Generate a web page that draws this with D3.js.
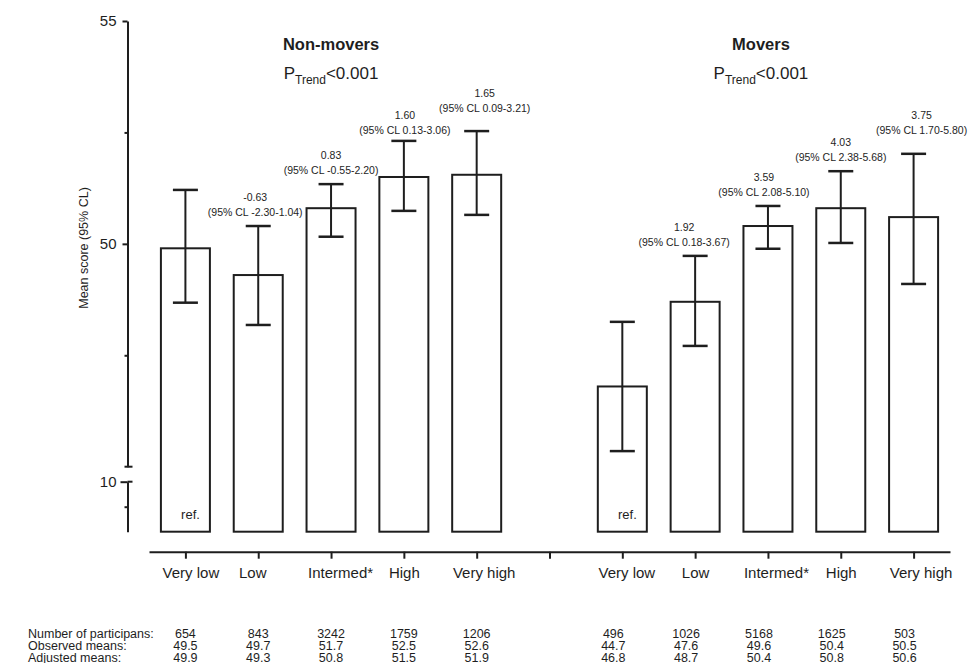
<!DOCTYPE html>
<html>
<head>
<meta charset="utf-8">
<script src="https://cdn.jsdelivr.net/npm/d3@7"></script>
<style>
  body { margin: 0; background: #fff; }
  svg { display: block; font-family: Arial, "Liberation Sans", sans-serif; }
</style>
</head>
<body>
<div id="chart"></div>
<script>
// Categories and groups
const categories = ['Very low', 'Low', 'Intermed*', 'High', 'Very high'];
const groups = ['Non-movers', 'Movers'];

// Bar heights (mean score) and 95% CL
const nonMoverMean = [49.9, 49.3, 50.8, 51.5, 51.55];
const nonMoverLow = [48.68, 48.18, 50.16, 50.74, 50.65];
const nonMoverHigh = [51.21, 50.40, 51.34, 52.31, 52.53];
const moverMean = [46.8, 48.7, 50.4, 50.8, 50.6];
const moverLow = [45.35, 47.71, 49.89, 50.02, 49.10];
const moverHigh = [48.25, 49.73, 50.85, 51.63, 52.02];

// Differences against the reference category
const nonMoverDiff = [null, '-0.63', '0.83', '1.60', '1.65'];
const nonMoverDiffCL = [null, '-2.30-1.04', '-0.55-2.20', '0.13-3.06', '0.09-3.21'];
const moverDiff = [null, '1.92', '3.59', '4.03', '3.75'];
const moverDiffCL = [null, '0.18-3.67', '2.08-5.10', '2.38-5.68', '1.70-5.80'];

// Table under the chart
const rowLabels = ['Number of participans:', 'Observed means:', 'Adjusted means:'];
const nonMoverN = ['654', '843', '3242', '1759', '1206'];
const moverN = ['496', '1026', '5168', '1625', '503'];
const nonMoverObserved = ['49.5', '49.7', '51.7', '52.5', '52.6'];
const moverObserved = ['44.7', '47.6', '49.6', '50.4', '50.5'];
const nonMoverAdjusted = ['49.9', '49.3', '50.8', '51.5', '51.9'];
const moverAdjusted = ['46.8', '48.7', '50.4', '50.8', '50.6'];

const yTicksUpper = [50, 55];
const yTicksLower = [10];

const width = 968, height = 663;
const ink = '#1e1e1e';

const svg = d3.select('#chart').append('svg')
    .attr('width', width)
    .attr('height', height);

svg.append('rect').attr('width', width).attr('height', height).attr('fill', '#fff');

// x: 5 + gap + 5 slots
const x = d3.scalePoint()
    .domain(d3.range(11))
    .range([149, 950])
    .padding(0.5);

// broken y axis: upper part 45-55, lower part 9-10
const yUp = d3.scaleLinear().domain([45, 55]).range([466.7, 21]);
const yLo = d3.scaleLinear().domain([9, 10]).range([531.7, 481.7]);
const axisX = 127.5;

// y axis, upper segment
const gUp = svg.append('g').attr('transform', `translate(${axisX},0)`)
    .call(d3.axisLeft(yUp).tickValues(yTicksUpper).tickSize(5).tickSizeOuter(0).tickPadding(6)
        .tickFormat(d3.format('d')));
gUp.append('g')
    .call(d3.axisLeft(yUp).tickValues([47.5, 52.5]).tickSize(3).tickSizeOuter(0).tickFormat(''))
    .select('.domain').remove();

// y axis, lower segment
const gLo = svg.append('g').attr('transform', `translate(${axisX},0)`)
    .call(d3.axisLeft(yLo).tickValues(yTicksLower).tickSize(7).tickSizeOuter(0).tickPadding(4)
        .tickFormat(d3.format('d')));
gLo.append('g')
    .call(d3.axisLeft(yLo).tickValues([9.5]).tickSize(3).tickSizeOuter(0).tickFormat(''))
    .select('.domain').remove();

// break caps
svg.append('line').attr('x1', axisX - 3).attr('x2', axisX + 5)
    .attr('y1', yUp(45)).attr('y2', yUp(45));
svg.append('line').attr('x1', axisX).attr('x2', axisX + 5)
    .attr('y1', yLo(10)).attr('y2', yLo(10));

svg.selectAll('.domain, .tick line, line').attr('stroke', ink).attr('stroke-width', 2);
svg.selectAll('g').attr('font-family', null).attr('font-size', null);
svg.selectAll('.tick text').attr('font-size', 15).attr('fill', ink);

// y label
svg.append('text')
    .attr('transform', 'translate(88,248) rotate(-90)')
    .attr('text-anchor', 'middle')
    .attr('font-size', 12.5)
    .attr('fill', ink)
    .text('Mean score (95% CL)');

// x axis
const labelNudge = [5, -6, 9, 0, 7, 0, 4, 0, 8, 0, 7];
const gx = svg.append('g').attr('transform', 'translate(0,551.7)')
    .call(d3.axisBottom(x).tickSize(7).tickSizeOuter(0).tickPadding(9)
        .tickFormat(i => i < 5 ? categories[i] : i > 5 ? categories[i - 6] : ''))
    .attr('font-family', null).attr('font-size', null);
gx.select('.domain').attr('stroke', ink).attr('stroke-width', 2);
gx.selectAll('.tick line').attr('stroke', ink).attr('stroke-width', 2);
gx.selectAll('.tick text')
    .attr('font-size', 15).attr('fill', ink)
    .attr('dx', i => labelNudge[i]);

// bars and error bars
const barW = 49, capW = 25;
const series = [
    { offset: 0, mean: nonMoverMean, lo: nonMoverLow, hi: nonMoverHigh, diff: nonMoverDiff, cl: nonMoverDiffCL },
    { offset: 6, mean: moverMean, lo: moverLow, hi: moverHigh, diff: moverDiff, cl: moverDiffCL }
];
const noteShift = [[0, 0], [-3, 0], [0, 0], [1, 3], [8, -9], [0, 0], [-11, 0], [-4, 0], [0, 0], [8, -10]];

series.forEach((s, si) => {
    const rows = s.mean.map((m, i) => ({
        cx: x(i + s.offset), mean: m, lo: s.lo[i], hi: s.hi[i],
        diff: s.diff[i], cl: s.cl[i], k: si * 5 + i
    }));
    const g = svg.append('g');

    g.selectAll('rect').data(rows).enter().append('rect')
        .attr('x', d => d.cx - barW / 2)
        .attr('y', d => yUp(d.mean))
        .attr('width', barW)
        .attr('height', d => yLo(9) - yUp(d.mean))
        .attr('fill', '#fff')
        .attr('stroke', ink)
        .attr('stroke-width', 2);

    g.selectAll('line.err').data(rows).enter().append('line').attr('class', 'err')
        .attr('x1', d => d.cx).attr('x2', d => d.cx)
        .attr('y1', d => yUp(d.hi)).attr('y2', d => yUp(d.lo))
        .attr('stroke', ink).attr('stroke-width', 2);

    ['hi', 'lo'].forEach(key => {
        g.selectAll('line.cap-' + key).data(rows).enter().append('line').attr('class', 'cap-' + key)
            .attr('x1', d => d.cx - capW / 2).attr('x2', d => d.cx + capW / 2)
            .attr('y1', d => yUp(d[key])).attr('y2', d => yUp(d[key]))
            .attr('stroke', ink).attr('stroke-width', 2.5);
    });

    // "ref." inside the reference bar
    g.append('text')
        .attr('x', rows[0].cx + barW / 2 - 10)
        .attr('y', 518.5)
        .attr('text-anchor', 'end')
        .attr('font-size', 13)
        .attr('fill', ink)
        .text('ref.');

    // difference labels above error bars
    const notes = g.selectAll('g.note').data(rows.filter(d => d.diff)).enter().append('g')
        .attr('class', 'note')
        .attr('transform', d => {
            const sh = noteShift[d.k];
            return `translate(${d.cx + sh[0]},${yUp(d.hi) - 10 + sh[1]})`;
        })
        .attr('text-anchor', 'middle')
        .attr('font-size', 10.5)
        .attr('fill', ink);
    notes.append('text').attr('y', -15).text(d => d.diff);
    notes.append('text').attr('y', 0).text(d => `(95% CL ${d.cl})`);
});

// group titles
const titleX = [x(2), x(8) - 7];
groups.forEach((name, gi) => {
    svg.append('text')
        .attr('x', titleX[gi]).attr('y', 49.5)
        .attr('text-anchor', 'middle')
        .attr('font-size', 16.5).attr('font-weight', 'bold')
        .attr('fill', ink)
        .text(name);
    const p = svg.append('text')
        .attr('x', titleX[gi]).attr('y', 78.5)
        .attr('text-anchor', 'middle')
        .attr('font-size', 17)
        .attr('fill', ink);
    p.append('tspan').text('P');
    p.append('tspan').attr('font-size', 12).attr('dy', 5).text('Trend');
    p.append('tspan').attr('dy', -5).text('<0.001');
});

// table
const tableRows = [
    [nonMoverN, moverN],
    [nonMoverObserved, moverObserved],
    [nonMoverAdjusted, moverAdjusted]
];
const rowY = [637.5, 649.5, 661.5];
const colShift = [0, -9];
tableRows.forEach((r, ri) => {
    svg.append('text')
        .attr('x', 28).attr('y', rowY[ri])
        .attr('font-size', 12.5).attr('fill', ink)
        .text(rowLabels[ri]);
    r.forEach((vals, gi) => {
        svg.append('g').selectAll('text').data(vals).enter().append('text')
            .attr('x', (d, i) => x(i + gi * 6) + colShift[gi])
            .attr('y', rowY[ri])
            .attr('text-anchor', 'middle')
            .attr('font-size', 12.5).attr('fill', ink)
            .text(d => d);
    });
});
</script>
</body>
</html>
